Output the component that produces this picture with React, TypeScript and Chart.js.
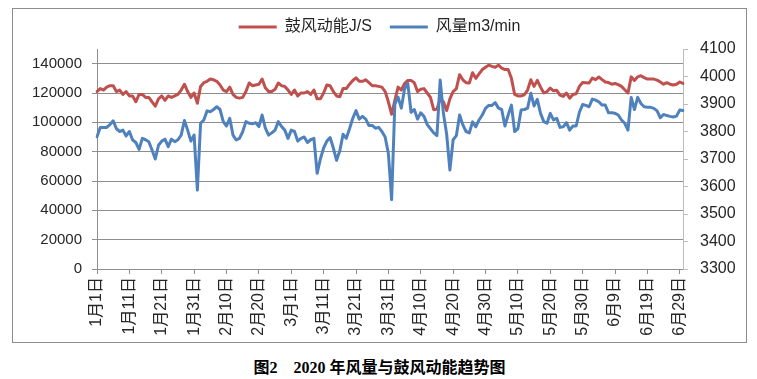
import React, { useEffect, useRef } from 'react';
import { Chart, registerables } from 'chart.js';

Chart.register(...registerables);

// 2020: Jan..Jun day counts (leap year)
const MONTH_DAYS = [31, 29, 31, 30, 31, 30];
const categories: string[] = [];
MONTH_DAYS.forEach((n, m) => {
  for (let d = 1; d <= n; d++) categories.push(`${m + 1}月${d}日`);
});

const SERIES_NAMES = ['鼓风动能J/S', '风量m3/min'];

// 鼓风动能 J/S (left axis), 1月1日 .. 6月30日
const blastEnergy = [
  121000, 123000, 122000, 124000, 125000, 125000, 121000, 122000, 119000, 121000,
  118000, 118000, 114000, 119000, 119000, 117000, 117000, 114000, 111000, 116000,
  118000, 115000, 118000, 117000, 118000, 119000, 122000, 126000, 121000, 117000,
  120000, 113000, 124500, 127000, 128000, 129500, 129000, 128000, 125500, 122000,
  121000, 124000, 119000, 117000, 116500, 117000, 121000, 126800, 125000, 125500,
  126000, 129500, 123500, 121000, 121000, 122500, 126800, 125000, 124500, 122000,
  119000, 122000, 118000, 120000, 120000, 121000, 119000, 122000, 116000, 116000,
  120000, 125500, 125000, 121000, 118000, 117500, 123000, 123000, 126000, 128500,
  130300, 128000, 128000, 129000, 127000, 125000, 125000, 124500, 124000, 121000,
  114000, 105500, 115000, 124000, 122000, 126500, 128600, 128600, 127000, 121000,
  122500, 123000, 120000, 117000, 108600, 109000, 116000, 114000, 108000, 116000,
  121000, 123000, 132500, 129000, 127000, 126800, 133800, 130000, 133000, 136000,
  137500, 139000, 138200, 137500, 139000, 137000, 136000, 136000, 130000, 119000,
  118000, 118000, 118800, 122000, 129000, 124500, 128600, 124000, 120000, 121000,
  123400, 121500, 121800, 118500, 117700, 120000, 116500, 119000, 119500, 124500,
  127200, 127000, 126800, 130200, 129100, 130900, 129100, 127500, 127100, 126000,
  126500, 125700, 124500, 122200, 120000, 131000, 128500, 131000, 131800, 130500,
  129500, 129500, 129500, 128800, 127500, 126000, 127000, 126000, 125500, 126000,
  127500, 126500,
];

// 风量 m3/min (right axis)
const airVolume = [
  3781, 3815, 3815, 3815, 3825, 3839, 3810, 3800, 3805, 3784,
  3800, 3769, 3760, 3735, 3775, 3770, 3763, 3733, 3700, 3750,
  3765, 3772, 3745, 3772, 3763, 3770, 3787, 3840, 3805, 3765,
  3787, 3587, 3830, 3842, 3875, 3872, 3880, 3890, 3880, 3836,
  3820, 3848, 3787, 3769, 3775, 3799, 3836, 3830, 3828, 3832,
  3818, 3860, 3812, 3787, 3795, 3805, 3836, 3818, 3805, 3775,
  3805, 3800, 3765, 3775, 3780, 3760, 3770, 3775, 3648, 3700,
  3740, 3765, 3778, 3740, 3695, 3730, 3790, 3775, 3810, 3848,
  3876, 3845, 3855, 3845, 3822, 3822, 3812, 3815, 3800, 3780,
  3720, 3552, 3900, 3925, 3885, 3955, 3975, 3870, 3880, 3845,
  3868, 3855, 3825, 3810, 3795, 3785, 3987, 3866, 3790, 3660,
  3770, 3785, 3860, 3824, 3800, 3795, 3835, 3817, 3842, 3860,
  3884, 3895, 3895, 3905, 3885, 3880, 3820, 3860, 3896, 3800,
  3810, 3878, 3880, 3885, 3939, 3893, 3917, 3866, 3836, 3830,
  3866, 3842, 3848, 3815, 3817, 3832, 3805, 3820, 3820, 3870,
  3898, 3895, 3890, 3918, 3914, 3908, 3896, 3896, 3868, 3868,
  3866, 3860, 3842, 3830, 3805, 3924, 3880, 3924, 3902, 3890,
  3888, 3888, 3884, 3875, 3850, 3862, 3858, 3855, 3853, 3856,
  3878, 3876,
];

// Axis ranges and tick labels
const LEFT_MIN = 0;
const LEFT_MAX = 150000;
const LEFT_TICKS = [0, 20000, 40000, 60000, 80000, 100000, 120000, 140000];
const RIGHT_MIN = 3300;
const RIGHT_MAX = 4100;
const RIGHT_TICKS = [3300, 3400, 3500, 3600, 3700, 3800, 3900, 4000, 4100];
const LABEL_EVERY = 10;

const RED = '#C0504D';
const BLUE = '#4F81BD';
const GRID = '#8e8e8e';
const RIGHT_AXIS_COLOR = '#bdbdbd';
const TEXT = '#262626';
const FONT = "'Liberation Sans', 'Noto Sans CJK SC', sans-serif";

export default function App() {
  const ref = useRef<HTMLCanvasElement | null>(null);

  useEffect(() => {
    if (!ref.current) return;
    Chart.defaults.font.family = FONT;
    const chart = new Chart(ref.current, {
      type: 'line',
      data: {
        labels: categories,
        datasets: [
          {
            label: SERIES_NAMES[0],
            data: blastEnergy,
            borderColor: RED,
            backgroundColor: RED,
            borderWidth: 3,
            pointRadius: 0,
            tension: 0,
            borderJoinStyle: 'round',
            borderCapStyle: 'round',
            yAxisID: 'y',
            order: 2,
          },
          {
            label: SERIES_NAMES[1],
            data: airVolume,
            borderColor: BLUE,
            backgroundColor: BLUE,
            borderWidth: 3,
            pointRadius: 0,
            tension: 0,
            borderJoinStyle: 'round',
            borderCapStyle: 'round',
            yAxisID: 'y1',
            order: 1,
          },
        ],
      },
      options: {
        responsive: false,
        animation: false,
        layout: { padding: { top: -8, left: 0, right: 0, bottom: 0 } },
        plugins: {
          tooltip: { enabled: false },
          legend: {
            position: 'top',
            labels: {
              usePointStyle: true,
              pointStyle: 'line',
              pointStyleWidth: 38,
              padding: 18,
              color: TEXT,
              font: { size: 16, family: FONT },
              sort: (a: any, b: any) => a.datasetIndex - b.datasetIndex,
            },
          },
          subtitle: {
            display: true,
            text: ' ',
            position: 'top',
            weight: 500,
            font: { size: 1, lineHeight: 1 },
            padding: { top: 0, bottom: 3 },
          },
        },
        scales: {
          x: {
            type: 'category',
            offset: false,
            afterFit: (s: any) => {
              s.height = 73;
            },
            grid: {
              display: true,
              drawOnChartArea: false,
              drawTicks: true,
              tickLength: 5,
              color: (ctx: any) => (ctx.index % LABEL_EVERY === 0 ? GRID : 'rgba(0,0,0,0)'),
            },
            border: { display: true, color: GRID, width: 1 },
            ticks: {
              autoSkip: false,
              minRotation: 90,
              maxRotation: 90,
              padding: 3,
              color: TEXT,
              font: { size: 16, family: FONT },
              callback: (_v: any, i: number) => (i % LABEL_EVERY === 0 ? categories[i] : ''),
            },
          },
          y: {
            type: 'linear',
            position: 'left',
            min: LEFT_MIN,
            max: LEFT_MAX,
            afterBuildTicks: (s: any) => {
              s.ticks = LEFT_TICKS.map((v) => ({ value: v }));
            },
            afterFit: (s: any) => {
              s.width = 84;
            },
            grid: { color: GRID, drawTicks: true, tickLength: 5, lineWidth: 1 },
            border: { display: true, color: GRID, width: 1 },
            ticks: {
              padding: 10,
              color: TEXT,
              font: { size: 15, family: FONT },
              callback: (v: any) => String(v),
            },
          },
          y1: {
            type: 'linear',
            position: 'right',
            min: RIGHT_MIN,
            max: RIGHT_MAX,
            afterBuildTicks: (s: any) => {
              s.ticks = RIGHT_TICKS.map((v) => ({ value: v }));
            },
            afterFit: (s: any) => {
              s.width = 63;
            },
            grid: {
              drawOnChartArea: false,
              drawTicks: true,
              tickLength: 5,
              color: RIGHT_AXIS_COLOR,
            },
            border: { display: true, color: RIGHT_AXIS_COLOR, width: 1 },
            ticks: {
              padding: 12,
              color: TEXT,
              font: { size: 16, family: FONT },
              callback: (v: any) => String(v),
            },
          },
        },
      },
    } as any);
    return () => chart.destroy();
  }, []);

  return (
    <div>
      <div
        style={{
          marginLeft: 4,
          width: 735,
          height: 335,
          border: '1px solid #8c8c8c',
          boxSizing: 'border-box',
        }}
      >
        <canvas ref={ref} width={733} height={333} style={{ display: 'block' }} />
      </div>
      <div
        style={{
          marginLeft: 4,
          width: 735,
          marginTop: 15,
          textAlign: 'center',
          font: "bold 16px 'Liberation Serif', 'Noto Sans CJK SC', serif",
          lineHeight: '20px',
          color: '#000',
        }}
      >
        图2　2020 年风量与鼓风动能趋势图
      </div>
    </div>
  );
}
